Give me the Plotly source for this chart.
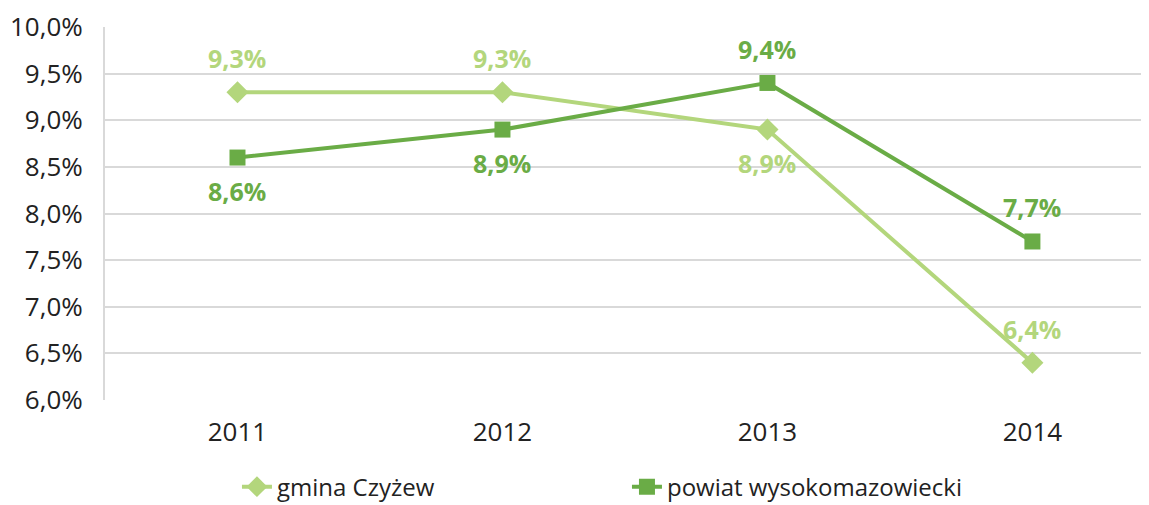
import plotly.graph_objects as go

years = ["2011", "2012", "2013", "2014"]
gmina = [9.3, 9.3, 8.9, 6.4]
powiat = [8.6, 8.9, 9.4, 7.7]
gmina_pos = ["top", "top", "bottom", "top"]
powiat_pos = ["bottom", "bottom", "top", "top"]
y_ticks = [6.0, 6.5, 7.0, 7.5, 8.0, 8.5, 9.0, 9.5, 10.0]

light = "#b3d67c"
dark = "#6aac46"
font = "Open Sans"

fig = go.Figure()
fig.add_trace(go.Scatter(x=years, y=gmina, name="gmina Czyżew", mode="lines+markers",
                         line=dict(color=light, width=4),
                         marker=dict(symbol="diamond", size=17, color=light)))
fig.add_trace(go.Scatter(x=years, y=powiat, name="powiat wysokomazowiecki", mode="lines+markers",
                         line=dict(color=dark, width=4),
                         marker=dict(symbol="square", size=16, color=dark)))

# value labels (x given as category index)
for vals, pos, col in [(gmina, gmina_pos, light), (powiat, powiat_pos, dark)]:
    for i, (v, p) in enumerate(zip(vals, pos)):
        fig.add_annotation(x=i, y=v, text=f"<b>{v:.1f}%</b>".replace(".", ","), showarrow=False,
                           yshift=34 if p == "top" else -33,
                           font=dict(family=font, size=25, color=col))

fig.update_xaxes(type="category", range=[-0.5, 3.44], showgrid=False, ticks="",
                 tickfont=dict(family=font, size=26, color="#222"), showline=False,
                 ticklabelstandoff=14)
fig.update_yaxes(range=[6.0, 10.0], tickvals=y_ticks,
                 ticktext=[f"{t:.1f}%".replace(".", ",") for t in y_ticks],
                 gridcolor="#d9d9d9", gridwidth=2, zeroline=False,
                 showline=True, linecolor="#d9d9d9", linewidth=2,
                 tickfont=dict(family=font, size=26, color="#222"), ticklabelstandoff=15)
# page has an 8px body margin, so the figure is sized and offset for it
fig.update_layout(width=1141, height=497, plot_bgcolor="white", paper_bgcolor="white",
                  margin=dict(l=97, r=0, t=19, b=105, autoexpand=False),
                  legend=dict(orientation="h", x=0.1264, xanchor="left",
                              yref="container", y=0.036, yanchor="middle",
                              font=dict(family=font, size=24, color="#222"),
                              entrywidth=345, traceorder="normal"))
fig.write_html("out.html")
